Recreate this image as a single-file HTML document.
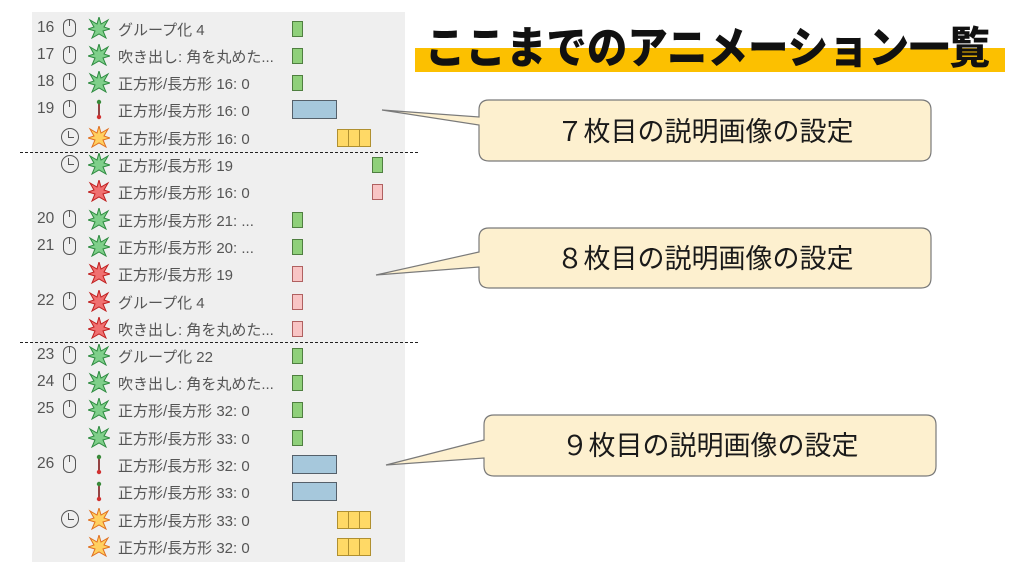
<!DOCTYPE html>
<html><head><meta charset="utf-8"><style>
body{margin:0;width:1024px;height:576px;background:#fff;position:relative;overflow:hidden;font-family:"Liberation Sans","Noto Sans CJK JP",sans-serif}
#panel{position:absolute;left:32px;top:12px;width:373px;height:550px;background:#efefef}
.r{position:absolute;left:0;height:27px;width:380px;font-size:15px;color:#555}
.n{position:absolute;left:5px;top:4px;font-size:15.5px}
.m{position:absolute;left:31px;top:4px;width:11px;height:16px;border:1.8px solid #555;border-radius:6px 6px 6px 6px}
.m:after{content:"";position:absolute;left:4.5px;top:0;width:1.8px;height:6px;background:#555}
.c{position:absolute;left:29px;top:4px;width:18px;height:18px;border:1.8px solid #555;border-radius:50%;box-sizing:border-box}
.c:after{content:"";position:absolute;left:6px;top:2px;width:5px;height:6px;border-left:1.8px solid #555;border-bottom:1.8px solid #555}
.s{position:absolute;left:56px;top:2px}
.t{position:absolute;left:86px;top:4px;white-space:nowrap}
.b{position:absolute;top:6px;height:16px;box-sizing:border-box;border:1px solid #555}
.g{left:260px;width:11px;background:#8fd07a;border-color:#4f7f40}
.g2{left:340px;width:11px;background:#8fd07a;border-color:#4f7f40}
.p{left:260px;width:11px;background:#f8c4c4;border-color:#b06060}
.p2{left:340px;width:11px;background:#f8c4c4;border-color:#b06060}
.bl{left:260px;width:45px;height:19px;top:4px;background:#a6c8dc;border-color:#55606a}
.y{left:305px;width:34px;height:18px;top:5px;background:#ffd966;border-color:#b09030;background-image:linear-gradient(90deg,transparent 10px,#b09030 10px,#b09030 11px,transparent 11px,transparent 21px,#b09030 21px,#b09030 22px,transparent 22px)}
.dash{position:absolute;left:20px;width:398px;border-top:1.5px dashed #222}
.co{position:absolute;left:0;top:0}
</style></head><body>
<svg width="0" height="0" style="position:absolute"><defs>
<path id="st" d="M11 0 L13 7 L20 3 L16 10 L22 12 L15 14 L18 21 L11 17 L4 21 L7 14 L0 12 L6 10 L2 3 L9 7Z"/>
<g id="pa"><line x1="11" y1="4" x2="11" y2="19" stroke="#8a3030" stroke-width="1.8"/><circle cx="11" cy="4" r="2.2" fill="#3a8a3a"/><circle cx="11" cy="19" r="2.2" fill="#d03030"/></g>
</defs></svg>
<div id="panel"></div>
<div id="rows" style="position:absolute;left:32px;top:0">
<div class="r" style="top:15px"><span class="n">16</span><i class="m"></i><svg class="s" width="22" height="22"><use href="#st" fill="#7fcf8a" stroke="#2e8b40"/></svg><span class="t">グループ化 4</span><i class="b g"></i></div>
<div class="r" style="top:42px"><span class="n">17</span><i class="m"></i><svg class="s" width="22" height="22"><use href="#st" fill="#7fcf8a" stroke="#2e8b40"/></svg><span class="t">吹き出し: 角を丸めた...</span><i class="b g"></i></div>
<div class="r" style="top:69px"><span class="n">18</span><i class="m"></i><svg class="s" width="22" height="22"><use href="#st" fill="#7fcf8a" stroke="#2e8b40"/></svg><span class="t">正方形/長方形 16: 0</span><i class="b g"></i></div>
<div class="r" style="top:96px"><span class="n">19</span><i class="m"></i><svg class="s" width="22" height="24"><use href="#pa"/></svg><span class="t">正方形/長方形 16: 0</span><i class="b bl"></i></div>
<div class="r" style="top:124px"><i class="c"></i><svg class="s" width="22" height="22"><use href="#st" fill="#ffd060" stroke="#e07020"/></svg><span class="t">正方形/長方形 16: 0</span><i class="b y"></i></div>
<div class="r" style="top:151px"><i class="c"></i><svg class="s" width="22" height="22"><use href="#st" fill="#7fcf8a" stroke="#2e8b40"/></svg><span class="t">正方形/長方形 19</span><i class="b g2"></i></div>
<div class="r" style="top:178px"><svg class="s" width="22" height="22"><use href="#st" fill="#f07070" stroke="#c02020"/></svg><span class="t">正方形/長方形 16: 0</span><i class="b p2"></i></div>
<div class="r" style="top:206px"><span class="n">20</span><i class="m"></i><svg class="s" width="22" height="22"><use href="#st" fill="#7fcf8a" stroke="#2e8b40"/></svg><span class="t">正方形/長方形 21: ...</span><i class="b g"></i></div>
<div class="r" style="top:233px"><span class="n">21</span><i class="m"></i><svg class="s" width="22" height="22"><use href="#st" fill="#7fcf8a" stroke="#2e8b40"/></svg><span class="t">正方形/長方形 20: ...</span><i class="b g"></i></div>
<div class="r" style="top:260px"><svg class="s" width="22" height="22"><use href="#st" fill="#f07070" stroke="#c02020"/></svg><span class="t">正方形/長方形 19</span><i class="b p"></i></div>
<div class="r" style="top:288px"><span class="n">22</span><i class="m"></i><svg class="s" width="22" height="22"><use href="#st" fill="#f07070" stroke="#c02020"/></svg><span class="t">グループ化 4</span><i class="b p"></i></div>
<div class="r" style="top:315px"><svg class="s" width="22" height="22"><use href="#st" fill="#f07070" stroke="#c02020"/></svg><span class="t">吹き出し: 角を丸めた...</span><i class="b p"></i></div>
<div class="r" style="top:342px"><span class="n">23</span><i class="m"></i><svg class="s" width="22" height="22"><use href="#st" fill="#7fcf8a" stroke="#2e8b40"/></svg><span class="t">グループ化 22</span><i class="b g"></i></div>
<div class="r" style="top:369px"><span class="n">24</span><i class="m"></i><svg class="s" width="22" height="22"><use href="#st" fill="#7fcf8a" stroke="#2e8b40"/></svg><span class="t">吹き出し: 角を丸めた...</span><i class="b g"></i></div>
<div class="r" style="top:396px"><span class="n">25</span><i class="m"></i><svg class="s" width="22" height="22"><use href="#st" fill="#7fcf8a" stroke="#2e8b40"/></svg><span class="t">正方形/長方形 32: 0</span><i class="b g"></i></div>
<div class="r" style="top:424px"><svg class="s" width="22" height="22"><use href="#st" fill="#7fcf8a" stroke="#2e8b40"/></svg><span class="t">正方形/長方形 33: 0</span><i class="b g"></i></div>
<div class="r" style="top:451px"><span class="n">26</span><i class="m"></i><svg class="s" width="22" height="24"><use href="#pa"/></svg><span class="t">正方形/長方形 32: 0</span><i class="b bl"></i></div>
<div class="r" style="top:478px"><svg class="s" width="22" height="24"><use href="#pa"/></svg><span class="t">正方形/長方形 33: 0</span><i class="b bl"></i></div>
<div class="r" style="top:506px"><i class="c"></i><svg class="s" width="22" height="22"><use href="#st" fill="#ffd060" stroke="#e07020"/></svg><span class="t">正方形/長方形 33: 0</span><i class="b y"></i></div>
<div class="r" style="top:533px"><svg class="s" width="22" height="22"><use href="#st" fill="#ffd060" stroke="#e07020"/></svg><span class="t">正方形/長方形 32: 0</span><i class="b y"></i></div>
</div>
<div class="dash" style="top:152px"></div>
<div class="dash" style="top:342px"></div>
<svg class="co" width="1024" height="576">
<rect x="415" y="48" width="590" height="24" fill="#fcc000"/>
<text x="425" y="63" font-size="44" font-weight="900" fill="#111" textLength="565" lengthAdjust="spacingAndGlyphs" font-family="Noto Sans CJK JP,sans-serif">ここまでのアニメーション一覧</text>
<g fill="#fdf0cf" stroke="#7a7a7a" stroke-width="1.2">
<path d="M489 100 H921 Q931 100 931 110 V151 Q931 161 921 161 H489 Q479 161 479 151 V125 L382 110 L479 117 V110 Q479 100 489 100Z"/>
<path d="M489 228 H921 Q931 228 931 238 V278 Q931 288 921 288 H489 Q479 288 479 278 V267 L376 275 L479 252 V238 Q479 228 489 228Z"/>
<path d="M494 415 H926 Q936 415 936 425 V466 Q936 476 926 476 H494 Q484 476 484 466 V458 L386 465 L484 440 V425 Q484 415 494 415Z"/>
</g>
<g font-size="27" fill="#1a1a1a" text-anchor="middle" font-family="Liberation Sans,Noto Sans CJK JP,sans-serif">
<text x="705" y="141">７枚目の説明画像の設定</text>
<text x="705" y="268">８枚目の説明画像の設定</text>
<text x="710" y="455">９枚目の説明画像の設定</text>
</g>
</svg>
</body></html>
